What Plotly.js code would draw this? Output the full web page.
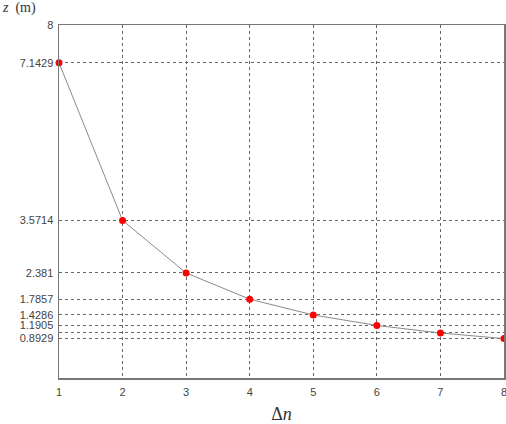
<!DOCTYPE html>
<html>
<head>
<meta charset="utf-8">
<script src="https://cdn.plot.ly/plotly-3.0.1.min.js"></script>
<style>html,body{margin:0;padding:0;background:#fff;}#chart{width:506px;height:424px;}</style>
</head>
<body>
<div id="chart"></div>
<script>
const deltaN = [1, 2, 3, 4, 5, 6, 7, 8];
const zValues = [7.1429, 3.5714, 2.381, 1.7857, 1.4286, 1.1905, 1.0204, 0.8929];
const yTickVals = [0.8929, 1.0204, 1.1905, 1.4286, 1.7857, 2.381, 3.5714, 7.1429, 8];
const yTickText = ["0.8929", "", "1.1905", "1.4286", "1.7857", "2.381", "3.5714", "7.1429", "8"];
const xTickVals = [1, 2, 3, 4, 5, 6, 7, 8];

const trace = {
  x: deltaN, y: zValues, type: 'scatter', mode: 'lines+markers',
  line: {color: '#8a8a8a', width: 1},
  marker: {color: '#ff0000', size: 7},
  cliponaxis: false, hoverinfo: 'none'
};

const layout = {
  width: 506, height: 424,
  margin: {l: 59, r: 2, t: 25, b: 46},
  paper_bgcolor: '#fff', plot_bgcolor: '#fff',
  showlegend: false,
  font: {family: 'Liberation Sans, Arial, sans-serif', size: 11, color: '#444'},
  xaxis: {
    range: [1, 8], tickvals: xTickVals, ticktext: xTickVals.map(String),
    showgrid: true, gridcolor: '#666', griddash: '3px,3px', gridwidth: 1,
    zeroline: false, showline: true, linecolor: '#777', linewidth: 1.5, mirror: true,
    ticks: '', ticklabeloverflow: 'allow', ticklabelstandoff: 3,
    title: {text: 'Δ<i>n</i>', font: {family: 'Liberation Serif, Times New Roman, serif', size: 18, color: '#333'}, standoff: 10}
  },
  yaxis: {
    range: [0, 8], tickvals: yTickVals, ticktext: yTickText,
    showgrid: true, gridcolor: '#666', griddash: '3px,3px', gridwidth: 1,
    zeroline: false, showline: true, linecolor: '#777', linewidth: 1.5, mirror: true,
    ticks: '', ticklabelstandoff: 2
  },
  annotations: [{
    xref: 'paper', yref: 'paper', x: 0, y: 1, xanchor: 'left', yanchor: 'bottom',
    xshift: -59, yshift: 7, showarrow: false,
    text: '<i>z</i>  (m)', font: {family: 'Liberation Serif, Times New Roman, serif', size: 14, color: '#333'}
  }]
};

Plotly.newPlot('chart', [trace], layout, {displayModeBar: false, staticPlot: true});
</script>
</body>
</html>
